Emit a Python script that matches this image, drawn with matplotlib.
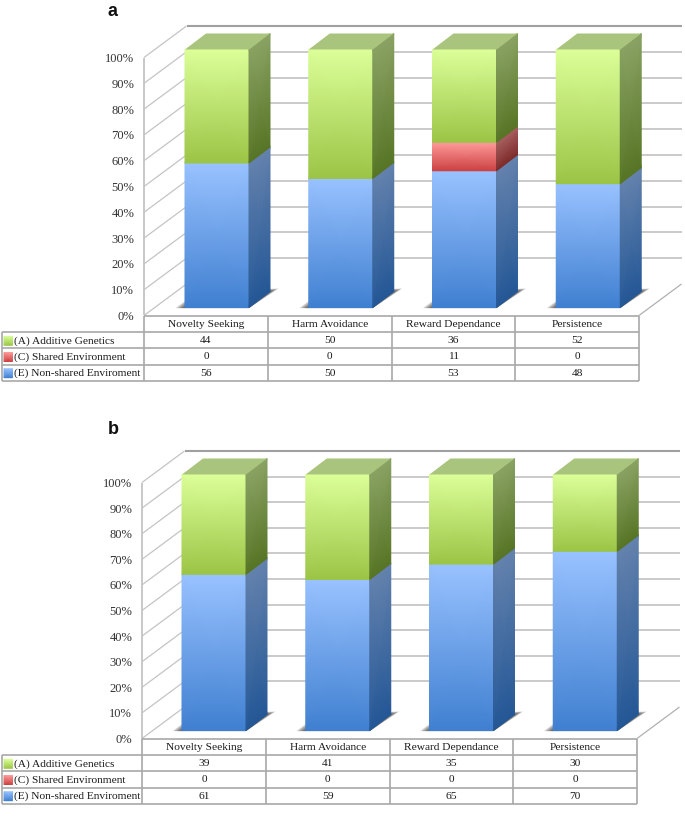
import matplotlib
matplotlib.use("Agg")
import matplotlib.pyplot as plt
from matplotlib.colors import LinearSegmentedColormap as LSC
from matplotlib.patches import Polygon

categories = ["Novelty Seeking", "Harm Avoidance", "Reward Dependance", "Persistence"]
row_labels = ["(A) Additive Genetics", "(C) Shared Environment", "(E) Non-shared Enviroment"]
additive_a = [44, 50, 36, 52]
shared_a = [0, 0, 11, 0]
nonshared_a = [56, 50, 53, 48]
additive_b = [39, 41, 35, 30]
shared_b = [0, 0, 0, 0]
nonshared_b = [61, 59, 65, 70]
percent_ticks = list(range(0, 101, 10))

W, H = 685, 826
FONT = "Liberation Serif"
GRID = "#bcbcbc"
EDGE = "#a8a8a8"
STYLE = {
    "A": dict(front=("#dcff99", "#9bc445"), side=("#8aa364", "#577525"), top="#a9c47c"),
    "C": dict(front=("#ff9c9c", "#cc4040"), side=("#a86060", "#7f2a2a"), top="#c07070"),
    "E": dict(front=("#99c2ff", "#3f7fd0"), side=("#6482ad", "#245796"), top="#6a8cc0"),
}

fig = plt.figure(figsize=(W / 100, H / 100), dpi=100)


def shade(ax, corners, colors):
    """corners: bottom-left, bottom-right, top-right, top-left; colors: (top, bottom)."""
    (x0, y0), (x1, y1), (x2, y2), (x3, y3) = corners
    cmap = LSC.from_list("c", [colors[1], colors[0]])
    m = ax.pcolormesh([[x0, x1], [x3, x2]], [[y0, y1], [y3, y2]], [[0, 0], [1, 1]],
                      cmap=cmap, vmin=0, vmax=1, shading="gouraud", zorder=4)
    m.set_clip_on(False)


def panel(left, right, y0, y100, label, label_y, bar_left, additive, shared, nonshared):
    ax = fig.add_axes([left / W, 1 - y0 / H, (right - left) / W, (y0 - y100) / H])
    ax.set_xlim(-0.5, 3.5)
    ax.set_ylim(0, 100)
    ax.patch.set_visible(False)
    for s in ax.spines.values():
        s.set_visible(False)
    ax.set_xticks([])
    ax.set_yticks(percent_ticks)
    ax.set_yticklabels([f"{t}%" for t in percent_ticks], fontfamily=FONT, fontsize=9.0, color="#333333")
    ax.tick_params(axis="y", length=0, pad=7)

    ux = (right - left) / 4
    uy = (y0 - y100) / 100
    px = lambda v: v / ux
    py = lambda v: v / uy
    xl, xr = -0.5, 3.5
    ddx, ddy = px(42.5), py(31.5)
    line = dict(clip_on=False, solid_capstyle="butt")

    # walls and gridlines
    for t in percent_ticks:
        ax.plot([xl, xl + ddx], [t, t + ddy], color="#c4c4c4", lw=0.9, zorder=1, **line)
        if t:
            ax.plot([xl + ddx, xr + ddx], [t + ddy, t + ddy], color=GRID, lw=1.1, zorder=1, **line)
    ax.plot([xl + ddx, xr + ddx], [100 + ddy, 100 + ddy], color="#a0a0a0", lw=1.5, zorder=1, **line)
    ax.plot([xl, xl], [0, 100], color="#c4c4c4", lw=1.3, zorder=1, **line)
    ax.plot([xr, xr + ddx], [0, ddy], color="#b0b0b0", lw=0.9, zorder=1, **line)

    # bars
    bw = px(64)
    sx, sy = px(21), py(16)
    base = py(8)
    for i in range(4):
        x0 = i - 0.5 + px(bar_left - left)
        x1 = x0 + bw
        # floor shadow, built from stacked translucent layers
        for k in range(5):
            g = (5 - k) * 1.7
            shadow = Polygon([(x0 - px(g * 1.1), base - py(0.6)), (x1, base - py(0.6)),
                              (x1 + sx + px(g), base + sy + py(g * 0.35)),
                              (x0 + sx - px(g), base + sy)],
                             closed=True, fc="#202020", ec="none", alpha=0.2, zorder=2, clip_on=False)
            ax.add_patch(shadow)
        bottom = base
        segs = [("E", nonshared[i]), ("C", shared[i]), ("A", additive[i])]
        for key, val in segs:
            if val <= 0:
                continue
            top = bottom + val
            st = STYLE[key]
            shade(ax, [(x0, bottom), (x1, bottom), (x1, top), (x0, top)], st["front"])
            shade(ax, [(x1, bottom), (x1 + sx, bottom + sy), (x1 + sx, top + sy), (x1, top)], st["side"])
            bottom = top
        ax.add_patch(Polygon([(x0, bottom), (x1, bottom), (x1 + sx, bottom + sy), (x0 + sx, bottom + sy)],
                             closed=True, fc=STYLE["A"]["top"], ec="none", zorder=4, clip_on=False))

    # data table
    tab_left = px(2 - left) - 0.5
    rows = [py(-0.5 - 16.2 * k) for k in range(5)]
    ax.plot([xl, xr], [rows[0], rows[0]], color=EDGE, lw=1.2, zorder=5, **line)
    for r in rows[1:]:
        ax.plot([tab_left, xr], [r, r], color=EDGE, lw=1.2, zorder=5, **line)
    for k in range(5):
        ax.plot([xl + k, xl + k], [rows[0], rows[4]], color=EDGE, lw=1.2, zorder=5, **line)
    ax.plot([tab_left, tab_left], [rows[1], rows[4]], color=EDGE, lw=1.2, zorder=5, **line)

    txt = dict(ha="center", va="center", fontfamily=FONT, fontsize=8.2, color="#1a1a1a", clip_on=False)
    for i, c in enumerate(categories):
        ax.text(i, (rows[0] + rows[1]) / 2 - py(0.5), c, **txt)
    for r, (name, key, vals) in enumerate(zip(row_labels, "ACE", (additive, shared, nonshared))):
        yc = (rows[r + 1] + rows[r + 2]) / 2 - py(0.5)
        for i, v in enumerate(vals):
            ax.text(i, yc, str(v), **txt)
        ax.text(tab_left + px(12.5), yc, name, ha="left", va="center", fontfamily=FONT,
                fontsize=8.2, color="#1a1a1a", clip_on=False)
        kx0, kx1 = tab_left + px(2), tab_left + px(10.5)
        ky0, ky1 = yc - py(4.5), yc + py(4.5)
        shade(ax, [(kx0, ky0), (kx1, ky0), (kx1, ky1), (kx0, ky1)], STYLE[key]["front"])

    fig.text(113 / W, 1 - label_y / H, label, ha="center", va="center", fontweight="bold",
             fontfamily="Liberation Sans", fontsize=13, color="#111111")


panel(144, 639, 315.5, 57.5, "a", 12, 185, additive_a, shared_a, nonshared_a)
panel(142, 637, 738.5, 482.5, "b", 430, 182, additive_b, shared_b, nonshared_b)

fig.savefig("out.png", dpi=100, facecolor="white")
